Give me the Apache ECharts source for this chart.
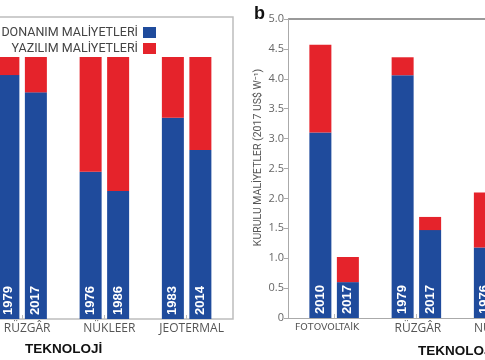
<!DOCTYPE html>
<html><head><meta charset="utf-8">
<script src="https://cdn.jsdelivr.net/npm/echarts@6/dist/echarts.min.js"></script>
<style>html,body{margin:0;padding:0;background:#fff}#c{width:485px;height:360px}</style>
</head><body><div id="c"></div>
<script>
// ---- data ----
const legendNames = ['DONANIM MALİYETLERİ', 'YAZILIM MALİYETLERİ'];
// Panel a: share of installed cost (%)
const aGroups = ['RÜZGÂR', 'NÜKLEER', 'JEOTERMAL'];
const aYears1 = ['1979', '1976', '1983'];
const aYears2 = ['2017', '1986', '2014'];
const aHw1 = [93.1, 56.2, 76.8];
const aSw1 = [6.9, 43.8, 23.2];
const aHw2 = [86.5, 48.9, 64.5];
const aSw2 = [13.5, 51.1, 35.5];
// Panel b: installed cost (2017 US$ per W)
const bGroups = ['FOTOVOLTAİK', 'RÜZGÂR', 'NÜKLEER'];
const bYears1 = ['2010', '1979', '1976'];
const bYears2 = ['2017', '2017', '1986'];
const bHw1 = [3.10, 4.06, 1.18];
const bSw1 = [1.47, 0.30, 0.92];
const bHw2 = [0.60, 1.47, null];
const bSw2 = [0.42, 0.22, null];
const bYTitle = 'KURULU MALİYETLER (2017 US$ W⁻¹)';
const xTitle = 'TEKNOLOJİ';
const panelLabel = 'b';

// ---- style ----
const BLUE = '#1f4b9c', RED = '#e5232b';
const yearLabel = (years) => ({
  show: true, position: 'insideBottom', rotate: 90, distance: 4,
  align: 'left', verticalAlign: 'middle',
  color: '#fff', fontSize: 13, fontWeight: 'bold', fontFamily: 'Liberation Sans',
  formatter: p => years[p.dataIndex]
});
function bar(name, data, axis, stack, color, years) {
  return {
    type: 'bar', name, data, xAxisIndex: axis, yAxisIndex: axis, stack,
    barWidth: 22, barGap: '25%', itemStyle: { color },
    label: years ? yearLabel(years) : { show: false },
    emphasis: { disabled: true }, animation: false
  };
}
const xLab = { color: '#555', fontSize: 12, fontFamily: 'Open Sans', margin: 4, interval: 0, hideOverlap: false };
const chart = echarts.init(document.getElementById('c'));
chart.setOption({
  animation: false,
  title: [
    { text: panelLabel, left: 254, top: 5, padding: 0, textStyle: { fontSize: 18, fontWeight: 'bold', color: '#111', fontFamily: 'Liberation Sans' } },
    { text: xTitle, left: 25, top: 342, padding: 0, textStyle: { fontSize: 13.5, fontWeight: 900, color: '#111', fontFamily: 'Liberation Sans' } },
    { text: xTitle, left: 418, top: 344, padding: 0, textStyle: { fontSize: 13.5, fontWeight: 900, color: '#111', fontFamily: 'Liberation Sans' } }
  ],
  legend: {
    data: legendNames.map(n => ({ name: n, icon: 'rect' })),
    orient: 'vertical', align: 'right', right: 329, top: 26, padding: 0,
    itemWidth: 13, itemHeight: 11, itemGap: 3, selectedMode: false,
    textStyle: { color: '#444', fontSize: 12.5, fontFamily: "'Liberation Sans Narrow', 'Roboto', sans-serif" }
  },
  grid: [
    { left: -19, width: 246.75, top: 57, bottom: 41, outerBoundsMode: 'none', containLabel: false },
    { left: 293, width: 246.75, top: 19, bottom: 42, outerBoundsMode: 'none', containLabel: false }
  ],
  xAxis: [
    { type: 'category', gridIndex: 0, data: aGroups,
      axisLine: { show: false },
      axisTick: { show: true, inside: true, alignWithLabel: true, length: 4, lineStyle: { color: '#bbb' } },
      axisLabel: Object.assign({}, xLab, { padding: [0, 0, 0, 10] }) },
    { type: 'category', gridIndex: 1,
      data: bGroups.map((g, i) => i === 0 ? { value: g, textStyle: { fontSize: 9.5, fontFamily: 'DejaVu Sans', color: '#555', padding: [0, 14, 0, 0] } } : g),
      axisLine: { show: false },
      axisTick: { show: true, inside: true, alignWithLabel: true, length: 4, lineStyle: { color: '#bbb' } },
      axisLabel: Object.assign({}, xLab, { margin: 5, padding: [0, 0, 0, 3] }) }
  ],
  yAxis: [
    { type: 'value', gridIndex: 0, min: 0, max: 100, show: false },
    { type: 'value', gridIndex: 1, min: 0, max: 5, interval: 0.5, offset: 5,
      name: bYTitle, nameLocation: 'middle', nameGap: 24, nameMoveOverlap: false,
      nameTextStyle: { color: '#555', fontSize: 10.5, fontFamily: "'Liberation Sans Narrow', 'Roboto', sans-serif", padding: [0, 0, 0, 22] },
      axisLine: { show: true, lineStyle: { color: '#aaa' } },
      axisTick: { show: true, length: 4, lineStyle: { color: '#aaa' } },
      splitLine: { show: false },
      axisLabel: { color: '#666', fontSize: 11, fontFamily: 'Open Sans', margin: 4,
        formatter: v => v === 0 ? '0' : v.toFixed(1) } }
  ],
  graphic: [
    { type: 'polyline', shape: { points: [[0, 17], [233, 17], [233, 319], [0, 319]] }, style: { stroke: '#bdbdbd', lineWidth: 1.5, fill: null }, z: 0 },
    { type: 'line', shape: { x1: 288, y1: 19, x2: 485, y2: 19 }, style: { stroke: '#999', lineWidth: 2 } },
    { type: 'line', shape: { x1: 288, y1: 318.5, x2: 485, y2: 318.5 }, style: { stroke: '#aaa', lineWidth: 1 } }
  ],
  series: [
    bar(legendNames[0], aHw1, 0, 'a1', BLUE, aYears1),
    bar(legendNames[1], aSw1, 0, 'a1', RED),
    bar(legendNames[0], aHw2, 0, 'a2', BLUE, aYears2),
    bar(legendNames[1], aSw2, 0, 'a2', RED),
    bar(legendNames[0], bHw1, 1, 'b1', BLUE, bYears1),
    bar(legendNames[1], bSw1, 1, 'b1', RED),
    bar(legendNames[0], bHw2, 1, 'b2', BLUE, bYears2),
    bar(legendNames[1], bSw2, 1, 'b2', RED)
  ]
});
</script>
</body></html>
